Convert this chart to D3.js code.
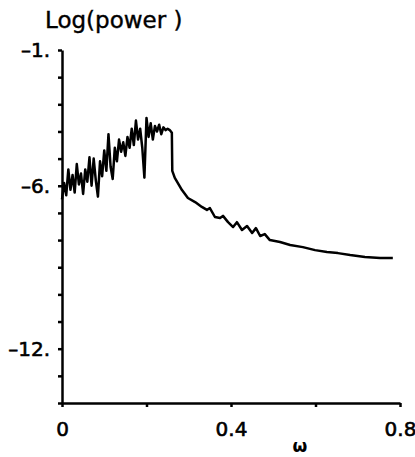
<!DOCTYPE html>
<html>
<head>
<meta charset="utf-8">
<script src="https://cdn.jsdelivr.net/npm/d3@7"></script>
<style>
  body { margin: 0; background: #fff; }
  text { font-family: "DejaVu Sans", sans-serif; fill: #000; }
</style>
</head>
<body>
<div id="my_dataviz"></div>
<script>
// spectrum: frequency omega and log(power)
var omega = [
  0, 0.005, 0.01, 0.015, 0.02, 0.025, 0.03, 0.035, 0.04, 0.045,
  0.05, 0.055, 0.06, 0.065, 0.07, 0.075, 0.08, 0.085, 0.09, 0.095,
  0.1, 0.105, 0.11, 0.115, 0.12, 0.125, 0.13, 0.135, 0.14, 0.145,
  0.15, 0.155, 0.16, 0.165, 0.17, 0.175, 0.18, 0.185, 0.19, 0.195,
  0.2, 0.205, 0.21, 0.215, 0.22, 0.225, 0.23, 0.235, 0.24, 0.245,
  0.25, 0.255, 0.26, 0.261,
  0.267, 0.284, 0.298, 0.315, 0.331, 0.343, 0.35, 0.362, 0.374, 0.381,
  0.393, 0.405, 0.414, 0.426, 0.438, 0.45, 0.459, 0.469, 0.48, 0.492,
  0.516, 0.54, 0.57, 0.599, 0.627, 0.653, 0.682, 0.717, 0.753, 0.783
];
var logPower = [
  -6.5, -5.9, -6.35, -5.4, -6.15, -5.6, -6.25, -5.2, -5.95, -5.55,
  -6.3, -5.4, -5.85, -4.95, -6.0, -5.0, -5.8, -6.4, -5.1, -5.65,
  -4.7, -5.45, -4.1, -5.3, -5.75, -4.6, -5.1, -4.3, -4.75, -4.4,
  -4.9, -4.2, -4.6, -3.9, -4.5, -3.6, -4.3, -3.9, -4.6, -5.7,
  -3.5, -4.2, -3.7, -4.3, -3.8, -4.0, -3.75, -4.1, -3.85, -3.95,
  -3.9, -3.95, -4.05, -5.45,
  -5.71, -6.16, -6.45, -6.6, -6.78, -6.89, -6.82, -7.15, -7.19, -7.11,
  -7.34, -7.52, -7.34, -7.63, -7.48, -7.74, -7.56, -7.85, -7.78, -8.0,
  -8.07, -8.18, -8.26, -8.37, -8.44, -8.48, -8.55, -8.62, -8.66, -8.66
];
var yTicks = d3.range(-14, 0);
var yLabels = {"-1": "–1.", "-6": "–6.", "-12": "–12."};
var xTicks = [0, 0.2, 0.4, 0.6, 0.8];
var xLabels = {"0": "0", "0.4": "0.4", "0.8": "0.8"};

var W = 415, H = 457;
var margin = {top: 50, right: 15, bottom: 54, left: 62};

var svg = d3.select("#my_dataviz")
  .append("svg")
    .attr("width", W)
    .attr("height", H);

var x = d3.scaleLinear()
  .domain([0, 0.8])
  .range([margin.left, W - margin.right]);

var y = d3.scaleLinear()
  .domain([-14, -1])
  .range([H - margin.bottom, margin.top]);

// x axis
svg.append("g")
  .attr("transform", "translate(0," + (H - margin.bottom) + ")")
  .call(d3.axisBottom(x)
    .tickValues(xTicks)
    .tickSize(4)
    .tickSizeOuter(0)
    .tickPadding(15)
    .tickFormat(function(d) { return xLabels[String(d)] || ""; }));

// y axis
svg.append("g")
  .attr("transform", "translate(" + margin.left + ",0)")
  .call(d3.axisLeft(y)
    .tickValues(yTicks)
    .tickSize(4)
    .tickSizeOuter(0)
    .tickPadding(8)
    .tickFormat(function(d) { return yLabels[String(d)] || ""; }));

svg.selectAll(".domain").attr("stroke", "#000").attr("stroke-width", 2.5);
svg.selectAll(".tick line").attr("stroke", "#000").attr("stroke-width", 2.5);
svg.selectAll(".tick text")
  .style("font-size", "20px")
  .attr("fill", "#000")
  .attr("stroke", "#000")
  .attr("stroke-width", 0.6);

// the spectrum
var pts = omega.map(function(d, i) { return [d, logPower[i]]; });
svg.append("path")
  .datum(pts)
  .attr("fill", "none")
  .attr("stroke", "#000")
  .attr("stroke-width", 2.5)
  .attr("stroke-linejoin", "round")
  .attr("d", d3.line()
    .x(function(d) { return x(d[0]); })
    .y(function(d) { return y(d[1]); }));

// titles
svg.append("text")
  .attr("x", 45)
  .attr("y", 28)
  .style("font-size", "23px")
  .attr("stroke", "#000")
  .attr("stroke-width", 0.4)
  .text("Log(power )");

svg.append("text")
  .attr("x", 300)
  .attr("y", 452)
  .attr("text-anchor", "middle")
  .style("font-size", "17px")
  .style("font-weight", "bold")
  .text("ω");
</script>
</body>
</html>
